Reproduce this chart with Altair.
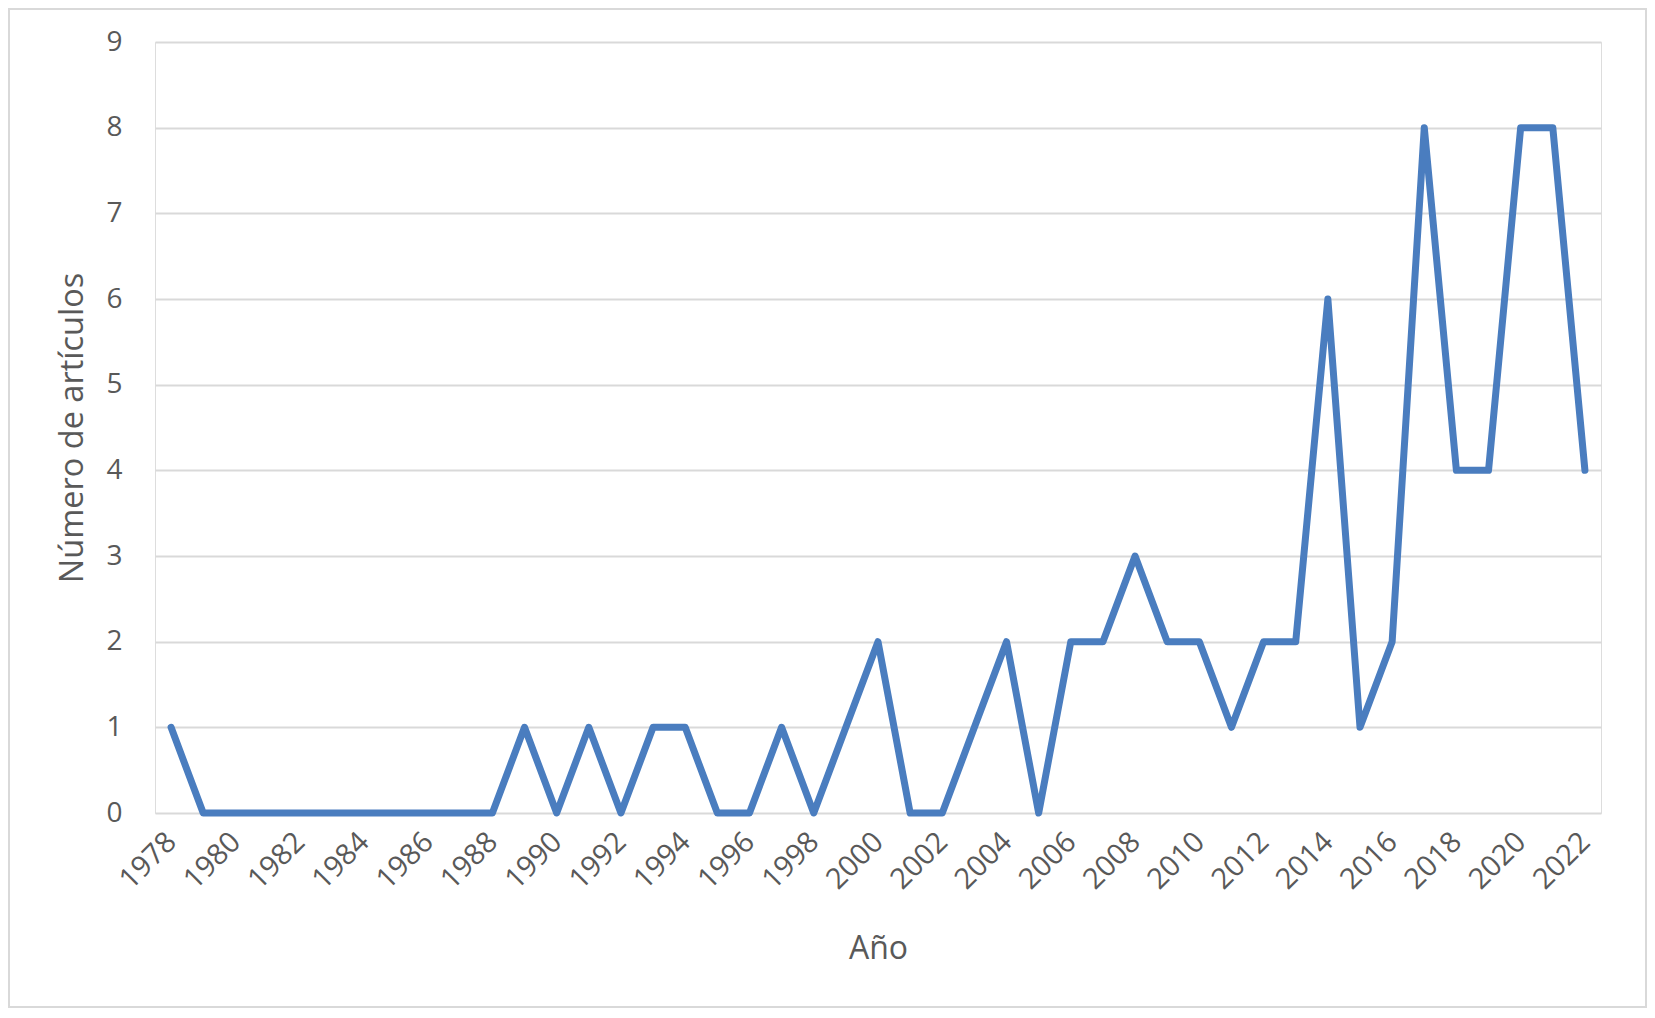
import altair as alt
import pandas as pd

years = list(range(1978, 2023))
articles = [1, 0, 0, 0, 0, 0, 0, 0, 0, 0, 0, 1, 0, 1, 0, 1, 1, 0, 0, 1,
            0, 1, 2, 0, 0, 1, 2, 0, 2, 2, 3, 2, 2, 1, 2, 2, 6, 1, 2, 8,
            4, 4, 8, 8, 4]
tick_years = list(range(1978, 2023, 2))
y_ticks = list(range(0, 10))

df = pd.DataFrame({"Año": years, "Artículos": articles})

FONT = "Open Sans"
TXT = "#595959"
W, H = 1446, 771
PL, PT = 147, 34
TW, TH = 1639, 1000

line = alt.Chart(df).mark_line(
    color="#4A7DBF", strokeWidth=7, strokeCap="round", strokeJoin="round"
).encode(
    x=alt.X("Año:Q",
            scale=alt.Scale(domain=[1977.5, 2022.5], nice=False, zero=False),
            axis=alt.Axis(values=tick_years, format="d", labelAngle=-45,
                          labelAlign="right", labelBaseline="middle",
                          labelPadding=24, labelFontSize=29, labelColor=TXT,
                          labelFont=FONT, grid=False, domain=False, ticks=False,
                          title="Año", titleFont=FONT, titleFontSize=32,
                          titleColor=TXT, titleFontWeight="normal",
                          titleX=W / 2, titleY=135, titleBaseline="middle",
                          labelOverlap=False)),
    y=alt.Y("Artículos:Q",
            scale=alt.Scale(domain=[0, 9], nice=False),
            axis=alt.Axis(values=y_ticks, format="d", labelFontSize=28,
                          labelColor=TXT, labelFont=FONT, labelPadding=33,
                          grid=True, gridColor="#D9D9D9", gridWidth=2,
                          domain=False, ticks=False,
                          title="Número de artículos", titleFont=FONT,
                          titleFontSize=32.5, titleColor=TXT,
                          titleFontWeight="normal", titleX=-83, titleY=H / 2,
                          titleAngle=-90, titleBaseline="middle")),
)

frame = alt.Chart(pd.DataFrame({"a": [0]})).mark_rect(
    fill=None, stroke="#D9D9D9", strokeWidth=2, clip=False
).encode(
    x=alt.value(-PL + 1), x2=alt.value(TW - PL - 1),
    y=alt.value(-PT + 1), y2=alt.value(TH - PT - 1),
)

chart = alt.layer(frame, line).properties(
    width=W, height=H,
    autosize=alt.AutoSizeParams(type="none"),
    padding={"left": PL, "top": PT, "right": TW - PL - W, "bottom": TH - PT - H},
).configure_view(stroke=None).configure(background="white")

chart.save("out.html", embed_options={"renderer": "svg", "actions": False})
